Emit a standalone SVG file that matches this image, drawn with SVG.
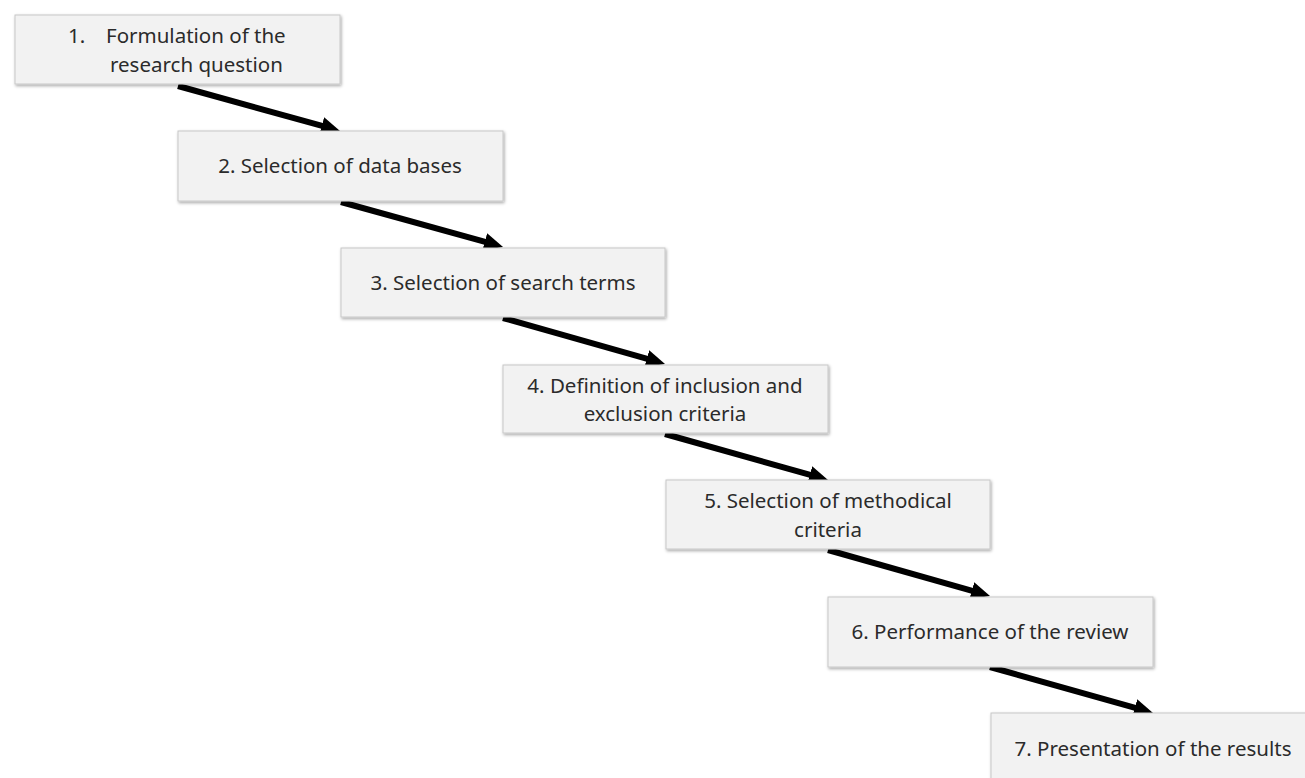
<svg xmlns="http://www.w3.org/2000/svg" width="1305" height="778" viewBox="0 0 1305 778">
  <defs>
    <filter id="shadow" x="-5%" y="-10%" width="110%" height="125%">
      <feDropShadow dx="1" dy="1.5" stdDeviation="1.5" flood-color="#000" flood-opacity="0.35"/>
    </filter>
    <!-- arrowhead tip sits 12px past the end of the shaft -->
    <marker id="head" viewBox="0 0 19 18" refX="7" refY="9" markerWidth="19" markerHeight="18" markerUnits="userSpaceOnUse" orient="auto">
      <path d="M0,0 L19,9 L0,18 Z" fill="#000"/>
    </marker>
    <style>
      .box { fill: #f2f2f2; stroke: #c8c8c8; stroke-width: 1; filter: url(#shadow); }
      .lbl { font-family: "Noto Sans", "Open Sans", sans-serif; font-size: 20.5px; fill: #2b2b2b; }
      .mid { text-anchor: middle; }
      .arrow { stroke: #000; stroke-width: 6; fill: none; marker-end: url(#head); }
    </style>
  </defs>
  <rect width="1305" height="778" fill="#fff"/>

  <g id="connectors">
    <line class="arrow" x1="178" y1="86" x2="328.5" y2="127.7"/>
    <line class="arrow" x1="341" y1="202" x2="491.5" y2="243.7"/>
    <line class="arrow" x1="503" y1="318" x2="653.5" y2="360.7"/>
    <line class="arrow" x1="665" y1="434" x2="816.5" y2="476.7"/>
    <line class="arrow" x1="828" y1="550" x2="978.5" y2="592.7"/>
    <line class="arrow" x1="990" y1="667" x2="1141.5" y2="709.7"/>
  </g>

  <g id="step1">
    <rect class="box" x="15" y="15" width="325" height="69"/>
    <text class="lbl" x="68" y="43">1.</text>
    <text class="lbl" x="106" y="43">Formulation of the</text>
    <text class="lbl" x="110" y="72">research question</text>
  </g>

  <g id="step2">
    <rect class="box" x="178" y="131" width="325" height="70"/>
    <text class="lbl mid" x="340" y="173">2. Selection of data bases</text>
  </g>

  <g id="step3">
    <rect class="box" x="341" y="248" width="324" height="69"/>
    <text class="lbl mid" x="503" y="290">3. Selection of search terms</text>
  </g>

  <g id="step4">
    <rect class="box" x="503" y="365" width="325" height="68"/>
    <text class="lbl mid" x="665" y="393">4. Definition of inclusion and</text>
    <text class="lbl mid" x="665" y="421">exclusion criteria</text>
  </g>

  <g id="step5">
    <rect class="box" x="666" y="480" width="324" height="69"/>
    <text class="lbl mid" x="828" y="508">5. Selection of methodical</text>
    <text class="lbl mid" x="828" y="537">criteria</text>
  </g>

  <g id="step6">
    <rect class="box" x="828" y="597" width="325" height="70"/>
    <text class="lbl mid" x="990" y="639">6. Performance of the review</text>
  </g>

  <g id="step7">
    <rect class="box" x="991" y="713" width="325" height="70"/>
    <text class="lbl mid" x="1153" y="756">7. Presentation of the results</text>
  </g>
</svg>
